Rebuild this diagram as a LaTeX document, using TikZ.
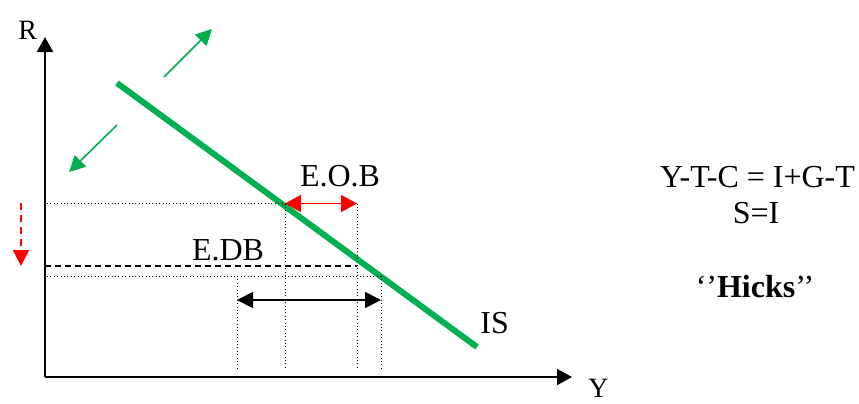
\documentclass[tikz,border=0pt]{standalone}
\usepackage{fontspec}
\setmainfont{Liberation Serif}
\usepackage{tikz}
\usetikzlibrary{arrows.meta,positioning,calc}
\definecolor{isgreen}{RGB}{0,176,80}
\definecolor{eobred}{RGB}{255,0,0}
\tikzset{
  axisarr/.style={draw=black, line width=1pt, -{Triangle[length=7.5pt,width=8pt]}},
  iscurve/.style={draw=isgreen, line width=3pt},
  shiftarr/.style={draw=isgreen, line width=0.8pt, -{Triangle[length=8pt,width=8pt]}},
  gaparr/.style={draw=eobred, line width=0.9pt, {Triangle[length=8pt,width=8.5pt]}-{Triangle[length=8pt,width=8.5pt]}},
  spanarr/.style={draw=black, line width=0.9pt, {Triangle[length=8pt,width=8pt]}-{Triangle[length=8pt,width=8pt]}},
  fallarr/.style={draw=eobred, line width=1pt, dash pattern=on 3.5pt off 2.5pt, -{Triangle[length=8pt,width=8pt]}},
  guide/.style={draw=black, line width=0.5pt, dash pattern=on 0.5pt off 1.2pt},
  levelline/.style={draw=black, line width=0.7pt, dash pattern=on 3pt off 2pt},
  lbl/.style={inner sep=0pt, font=\fontsize{16}{19}\selectfont},
  axlbl/.style={inner sep=0pt, font=\fontsize{14}{17}\selectfont}
}
\begin{document}
\begin{tikzpicture}[x=0.5pt, y=-0.5pt]
  \useasboundingbox (0,0) rectangle (859,403);
  % axes
  \coordinate (O) at (45,377);
  \coordinate (Rtop) at (45,37);
  \coordinate (Yend) at (572,377);
  \draw[axisarr] (O) -- (Rtop);
  \draw[axisarr] (O) -- (Yend);
  \node[axlbl, anchor=base west] (Rlbl) at (18,39) {R};
  \node[axlbl, anchor=base west] (Ylbl) at (588,397) {Y};
  % IS curve and its shifts
  \coordinate (ISa) at (117,83);
  \coordinate (ISb) at (477,347);
  \draw[iscurve] (ISa) -- (ISb);
  \node[lbl, anchor=base west] (ISlbl) at (480,333) {IS};
  \coordinate (upA) at (164,77);
  \coordinate (upB) at (212,29);
  \coordinate (dnA) at (117,125);
  \coordinate (dnB) at (69,172);
  \draw[shiftarr] (upA) -- (upB);
  \draw[shiftarr] (dnA) -- (dnB);
  % levels
  \coordinate (hiL) at (47,203.5);
  \coordinate (hiM) at (285,203.5);
  \coordinate (hiR) at (357,203.5);
  \coordinate (midL) at (45,266);
  \coordinate (midR) at (357,266);
  \coordinate (loL) at (47,276);
  \coordinate (loR) at (381,276);
  \coordinate (loW) at (237,276);
  \draw[guide] (hiL) -- (hiR);
  \draw[levelline] (midL) -- (midR);
  \draw[guide] (loL) -- (loR);
  \foreach \p/\q in {loW/237, hiM/285, hiR/357, loR/381}
    \draw[guide] (\p) -- (\q,368);
  % gaps
  \draw[gaparr] (hiM) -- (hiR);
  \node[lbl, anchor=base] (eob) at (340,186) {E.O.B};
  \node[lbl, anchor=base] (edb) at (228,260) {E.DB};
  \coordinate (spL) at (237,300);
  \coordinate (spR) at (381,300);
  \draw[spanarr] (spL) -- (spR);
  \coordinate (fA) at (21,203);
  \coordinate (fB) at (21,266);
  \draw[fallarr] (fA) -- (fB);
  % equations
  \node[lbl, anchor=base] (eq1) at (757.5,187) {Y-T-C = I+G-T};
  \node[lbl, anchor=base] (eq2) at (756,223) {S=I};
  \node[lbl, anchor=base] (hicks) at (755,297) {‘’\textbf{Hicks}’’};
\end{tikzpicture}
\end{document}
